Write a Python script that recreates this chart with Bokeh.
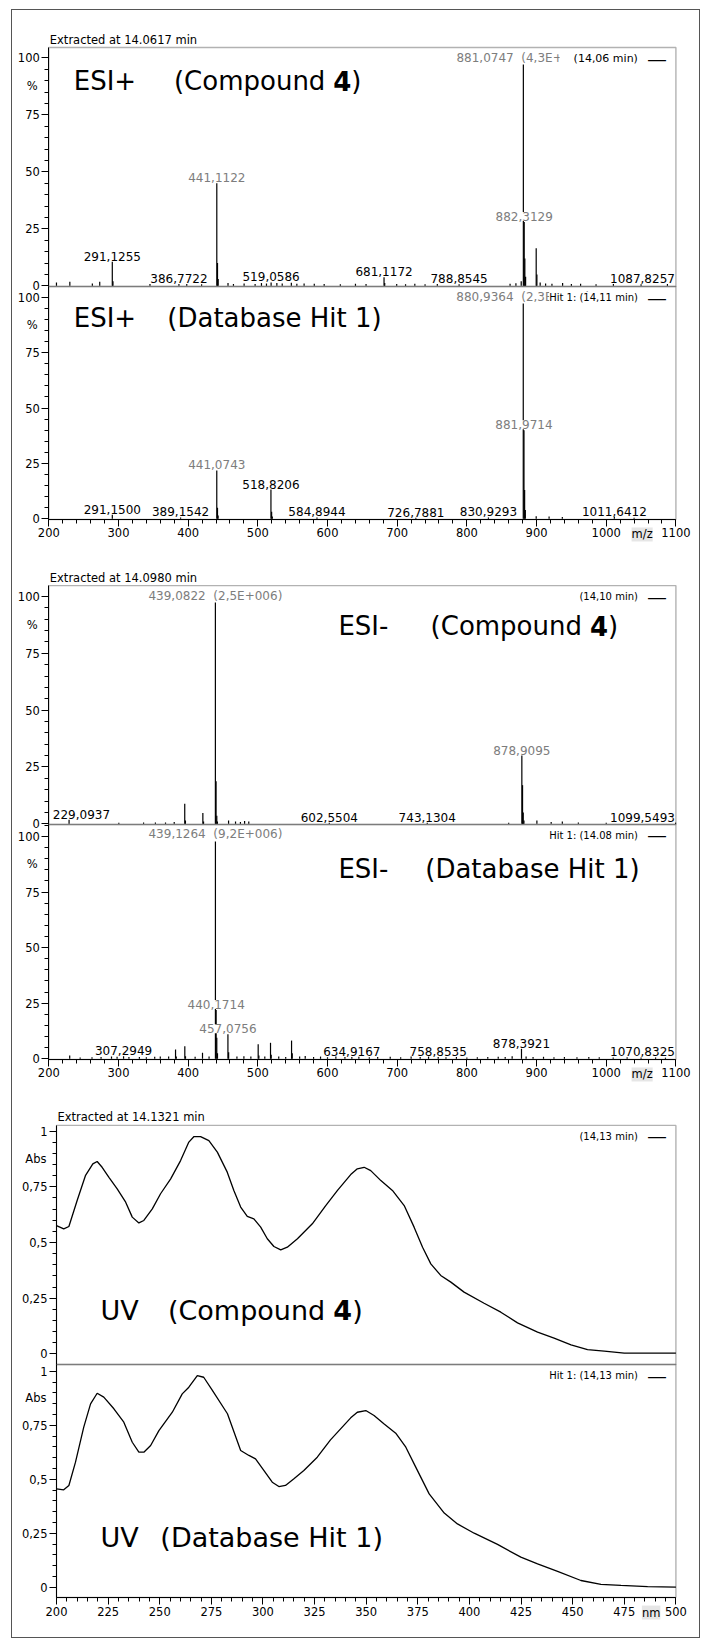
import numpy as np
from bokeh.plotting import figure
from bokeh.models import (Range1d, Label, SingleIntervalTicker, LinearAxis,
                          CustomJSTickFormatter, ColumnDataSource, BoxAnnotation)
from bokeh.layouts import column
from bokeh.embed import file_html
from bokeh.resources import INLINE

FONT = "DejaVu Sans"
GRAY = "#7d7d7d"

# ---------------- DATA ----------------
# Panel 1: ESI+ (Compound 4)
p1_mz = [211.0, 230.2, 262.5, 273.1, 291.13, 292.1, 345.2, 386.77, 398.0, 419.3,
         441.11, 442.12, 443.1, 457.2, 465.0, 480.3, 496.1, 505.2, 512.4, 519.06,
         527.3, 535.0, 548.1, 556.0, 566.4, 581.0, 595.2, 618.4, 640.1, 655.3,
         681.12, 682.1, 699.3, 712.0, 725.3, 740.0, 757.6, 788.85, 862.0, 870.4,
         878.0, 881.07, 882.31, 883.2, 884.3, 899.5, 900.5, 905.2, 913.0, 922.1,
         937.4, 950.0, 963.2, 985.4, 1010.3, 1050.0, 1087.83]
p1_int = [1.5, 1.8, 1.0, 1.8, 10.5, 2.0, 0.8, 0.8, 0.8, 0.7,
          45.0, 10.0, 3.0, 1.2, 0.8, 1.0, 0.8, 1.2, 1.0, 1.5,
          1.2, 1.0, 1.3, 0.9, 1.0, 0.9, 0.8, 0.7, 0.9, 0.8,
          3.8, 1.2, 0.8, 0.7, 0.9, 0.7, 0.8, 0.7, 0.9, 1.1,
          2.0, 100.0, 28.0, 12.0, 4.0, 16.5, 5.0, 1.5, 1.0, 0.9,
          1.2, 0.8, 0.9, 0.7, 0.8, 0.7, 0.8]
p1_labels = [291.1255, 386.7722, 441.1122, 519.0586, 681.1172, 788.8545,
             881.0747, 882.3129, 1087.8257]
p1_gray = [0, 0, 1, 0, 0, 0, 1, 1, 0]
p1_base = "4,3E+006"

# Panel 2: ESI+ (Database Hit 1)
p2_mz = [291.15, 389.15, 441.07, 442.1, 443.0, 518.82, 519.8, 520.8, 584.89,
         726.79, 830.93, 880.94, 881.97, 882.9, 883.9, 899.5, 918.0, 937.0,
         1011.64, 1040.0]
p2_int = [1.8, 0.6, 21.8, 5.0, 1.5, 13.2, 3.2, 1.0, 0.6,
          0.5, 0.6, 100.0, 40.0, 13.0, 4.0, 1.2, 1.0, 0.8,
          0.9, 0.5]
p2_labels = [291.1500, 389.1542, 441.0743, 518.8206, 584.8944, 726.7881,
             830.9293, 880.9364, 881.9714, 1011.6412]
p2_gray = [0, 0, 1, 0, 0, 0, 0, 1, 1, 0]
p2_base = "2,3E+006"

# Panel 3: ESI- (Compound 4)
p3_mz = [229.09, 300.5, 336.0, 353.0, 367.5, 380.0, 395.1, 396.1, 421.1, 422.1,
         439.08, 440.08, 441.1, 442.0, 458.0, 468.0, 475.0, 481.0, 487.0,
         602.55, 743.13, 860.0, 878.91, 879.91, 880.9, 881.9, 900.5, 921.0,
         937.0, 960.0, 1000.0, 1099.55]
p3_int = [1.8, 0.5, 0.6, 0.6, 0.6, 0.8, 8.8, 1.5, 4.7, 1.0,
          100.0, 18.7, 3.5, 1.0, 1.5, 1.0, 0.8, 1.2, 1.0,
          0.5, 0.5, 0.5, 30.0, 17.0, 5.0, 1.5, 1.5, 0.8,
          1.0, 0.6, 0.5, 0.5]
p3_labels = [229.0937, 439.0822, 602.5504, 743.1304, 878.9095, 1099.5493]
p3_gray = [0, 1, 0, 0, 1, 0]
p3_base = "2,5E+006"

# Panel 4: ESI- (Database Hit 1)
p4_mz = [230.0, 245.0, 262.0, 275.0, 290.0, 298.0, 307.29, 315.0, 330.0, 340.0,
         352.0, 360.0, 372.0, 381.9, 383.0, 395.2, 396.2, 410.0, 420.6, 430.0,
         439.13, 440.17, 441.1, 442.1, 457.08, 458.1, 470.0, 480.0, 490.0, 500.5,
         501.5, 510.0, 518.2, 519.2, 530.0, 540.0, 548.4, 549.4, 560.0, 568.0,
         580.0, 590.0, 600.0, 612.0, 625.0, 634.92, 645.0, 660.0, 672.0, 690.0,
         705.0, 720.0, 733.0, 745.0, 758.85, 770.0, 785.0, 800.0, 815.0, 830.0,
         845.0, 855.0, 865.0, 878.39, 885.0, 895.0, 910.0, 925.0, 940.0, 958.0,
         975.0, 990.0, 1010.0, 1030.0, 1050.0, 1070.83, 1085.0]
p4_int = [1.5, 0.6, 0.7, 0.8, 1.0, 0.9, 1.2, 0.8, 0.8, 0.7,
          0.9, 1.0, 1.0, 4.2, 1.0, 5.7, 1.2, 0.9, 2.7, 1.0,
          100.0, 22.0, 9.5, 2.5, 11.0, 3.0, 1.0, 1.2, 1.0, 6.6,
          1.5, 1.0, 7.2, 1.8, 1.0, 0.8, 8.2, 2.5, 1.0, 1.3,
          0.8, 1.0, 0.7, 1.0, 0.8, 0.8, 0.9, 0.7, 0.8, 0.9,
          0.7, 1.0, 0.8, 1.0, 0.8, 0.7, 0.8, 0.6, 0.7, 0.8,
          0.9, 0.8, 1.2, 4.5, 1.0, 0.8, 0.9, 0.7, 0.8, 0.7,
          0.8, 0.7, 0.6, 0.7, 0.6, 0.6, 0.5]
p4_labels = [307.2949, 439.1264, 440.1714, 457.0756, 634.9167, 758.8535,
             878.3921, 1070.8325]
p4_gray = [0, 1, 1, 1, 0, 0, 0, 0]
p4_base = "9,2E+006"

# Panel 5: UV (Compound 4)
uv1_nm = [200.0, 203.5, 206.0, 210.0, 214.0, 217.6, 219.7, 222.1, 225.4, 229.4,
          233.5, 236.7, 239.9, 242.3, 246.4, 250.4, 255.3, 260.1, 264.1, 266.6,
          269.8, 273.8, 277.9, 282.7, 285.9, 289.2, 292.4, 295.6, 298.9, 302.1,
          305.3, 308.6, 311.8, 316.7, 323.9, 330.4, 336.1, 342.5, 345.7, 349.0,
          352.2, 357.1, 362.7, 368.4, 373.2, 377.3, 381.3, 386.1, 391.0, 397.4,
          407.1, 415.2, 423.3, 433.0, 441.0, 449.2, 457.2, 465.3, 475.0, 500.0]
uv1_abs = [0.576, 0.561, 0.572, 0.689, 0.800, 0.853, 0.864, 0.838, 0.793, 0.741,
           0.681, 0.614, 0.588, 0.599, 0.651, 0.719, 0.786, 0.868, 0.951, 0.976,
           0.976, 0.958, 0.906, 0.816, 0.734, 0.659, 0.617, 0.606, 0.569, 0.517,
           0.482, 0.467, 0.479, 0.517, 0.584, 0.666, 0.734, 0.805, 0.831, 0.838,
           0.823, 0.778, 0.734, 0.666, 0.569, 0.479, 0.404, 0.352, 0.322, 0.277,
           0.227, 0.187, 0.139, 0.097, 0.070, 0.040, 0.019, 0.012, 0.003, 0.003]

# Panel 6: UV (Database Hit 1)
uv2_nm = [200.0, 203.5, 206.0, 209.2, 213.2, 216.5, 219.7, 222.9, 227.8, 232.6,
          236.7, 239.9, 242.3, 245.6, 249.6, 256.1, 260.9, 264.1, 268.2, 271.3,
          275.5, 282.8, 289.2, 293.2, 296.4, 300.5, 304.5, 307.7, 310.9, 315.0,
          319.8, 326.3, 332.7, 342.5, 345.7, 349.8, 353.8, 358.7, 364.3, 369.2,
          374.0, 380.5, 387.8, 394.2, 402.3, 413.6, 424.9, 433.0, 442.7, 454.0,
          463.7, 473.4, 486.3, 500.0]
uv2_abs = [0.455, 0.451, 0.471, 0.579, 0.741, 0.849, 0.898, 0.880, 0.826, 0.764,
           0.671, 0.625, 0.625, 0.656, 0.725, 0.810, 0.895, 0.926, 0.980, 0.972,
           0.911, 0.803, 0.633, 0.610, 0.594, 0.540, 0.486, 0.466, 0.471, 0.502,
           0.540, 0.602, 0.682, 0.784, 0.810, 0.818, 0.795, 0.756, 0.713, 0.648,
           0.556, 0.432, 0.343, 0.293, 0.250, 0.198, 0.139, 0.108, 0.073, 0.031,
           0.013, 0.008, 0.003, 0.000]

# ---------------- LAYOUT CONSTANTS (page pixels) ----------------
FIG_W = 687          # figure spans page x 12..699
PAGE_X0 = 12
MS_X = (48.3, 200.0, 675.4, 1100.0)   # px of 200, px of 1100
UV_X = (56.0, 200.0, 675.4, 500.0)


def style_axis(ax):
    ax.axis_line_color = "black"
    ax.major_tick_line_color = "black"
    ax.minor_tick_line_color = "black"
    ax.major_tick_in = 0
    ax.major_tick_out = 7
    ax.minor_tick_in = 0
    ax.minor_tick_out = 4
    ax.major_label_text_font = FONT
    ax.major_label_text_font_size = "11.5px"
    ax.major_label_text_color = "black"
    ax.major_label_standoff = 2


def add_text(p, x, y, text, size, color="black", bold=False, align="left",
             baseline="middle", xo=0, yo=0, bg=None, yname="default", font=FONT):
    kw = dict(x=x, y=y, text=text, text_font=font, text_font_size=f"{size}px",
              text_color=color, text_align=align, text_baseline=baseline,
              x_offset=xo, y_offset=yo, y_range_name=yname)
    if bold:
        kw["text_font_style"] = "bold"
    if bg is not None:
        kw["background_fill_color"] = bg
    p.add_layout(Label(**kw))


def text_w(t, size):
    return size * sum(0.318 if c in ",. ()\u00a0" else 0.636 for c in t)


def lin_range(pa, va, pb, vb, total):
    s = (pb - pa) / (vb - va)
    return va - pa / s, va + (total - pa) / s


def yrange_for(top, H, v0_px, v1_px, v1):
    s = (v0_px - v1_px) / v1       # px per unit
    y0 = v0_px - top
    return -(H - y0) / s, y0 / s, s


def pair_figure(top, H, xspec, specs):
    xa, va, xb, vb = xspec
    xs, xe = lin_range(xa - PAGE_X0, va, xb - PAGE_X0, vb, FIG_W)
    lo_spec, up_spec = specs[1], specs[0]
    ys, ye, _ = yrange_for(top, H, lo_spec["v0"], lo_spec["v1px"], lo_spec["v1"])
    us, ue, _ = yrange_for(top, H, up_spec["v0"], up_spec["v1px"], up_spec["v1"])
    p = figure(width=FIG_W, height=H, x_range=Range1d(xs, xe), y_range=Range1d(ys, ye),
               extra_y_ranges={"up": Range1d(us, ue)},
               x_axis_location=None, y_axis_location=None, min_border=0,
               output_backend="svg", toolbar_location=None)
    p.min_border_left = p.min_border_right = p.min_border_top = p.min_border_bottom = 0
    p.xgrid.visible = False
    p.ygrid.visible = False
    p.outline_line_color = None
    p.background_fill_color = "white"
    p.border_fill_color = "white"
    return p


def legend(p, xmax, hi, text, size, yname):
    add_text(p, xmax, hi, text, size, align="right", xo=-38, yo=-11, bg="white",
             yname=yname)
    add_text(p, xmax, hi, "\u2014", 18, align="right", xo=-10, yo=-11,
             yname=yname, font="Liberation Sans")


def ms_panel(p, yname, box, v0, v1px, show_x, mz, inten, labels, gray, base,
             extracted, legend_text, legend_size, title_parts, title_y):
    lo, hi = box
    ppu = (v0 - v1px) / 100.0
    # frame box
    p.add_layout(BoxAnnotation(left=200, right=1100, bottom=lo, top=hi,
                               fill_color=None, fill_alpha=0, line_color="black",
                               line_width=1.4, y_range_name=yname))
    # spectrum
    src = ColumnDataSource(dict(x=mz, y0=[0] * len(mz), y1=inten))
    p.segment(x0="x", y0="y0", x1="x", y1="y1", source=src, line_color="black",
              line_width=1.2, y_range_name=yname)
    # axes
    yax = LinearAxis(fixed_location=200, bounds=(lo, hi), y_range_name=yname,
                     ticker=SingleIntervalTicker(interval=25, num_minor_ticks=5))
    style_axis(yax)
    p.add_layout(yax, "left")
    if show_x:
        xax = LinearAxis(fixed_location=lo, bounds=(200, 1100), y_range_name=yname,
                         ticker=SingleIntervalTicker(interval=100, num_minor_ticks=5))
        style_axis(xax)
        p.add_layout(xax, "below")
        add_text(p, 1051.5, lo, "m/z", 11.5, align="center", yo=-15,
                 bg="#e6e6e6", yname=yname)
    # peak labels
    frame_h = (hi - lo) * ppu
    sx = (MS_X[2] - MS_X[0]) / 900.0
    frame_w = 900 * sx
    mz_a = np.array(mz)
    heights = [inten[int(np.argmin(np.abs(mz_a - v)))] for v in labels]
    base_idx = int(np.argmax(heights))
    for i, v in enumerate(labels):
        hgt = heights[i]
        txt = f"{v:.4f}".replace(".", ",")
        if i == base_idx:
            txt = txt + "\u00a0\u00a0(" + base + ")"
        w = text_w(txt, 12)
        c = (v - 200) * sx
        xo = 0
        if c - w / 2 < 4:
            xo = 4 - (c - w / 2)
        if c + w / 2 > frame_w - 1:
            xo = frame_w - 1 - (c + w / 2)
        col = GRAY if gray[i] else "black"
        top_px = (hgt - lo) * ppu + 1 + 14
        if top_px > frame_h - 3:
            add_text(p, v, hi, txt, 12, color=col, baseline="top", xo=xo, yo=-3,
                     align="center", bg="white", yname=yname)
        else:
            add_text(p, v, hgt, txt, 12, color=col, baseline="bottom", xo=xo, yo=1,
                     align="center", bg="white", yname=yname)
    add_text(p, 200, 87.5, "%", 11.5, align="right", xo=-11, yname=yname)
    if extracted:
        add_text(p, 200, hi, extracted, 11.5, baseline="bottom", xo=1, yo=1,
                 yname=yname)
    legend(p, 1100, hi, legend_text, legend_size, yname)
    for (tx, xo, txt, bold, align) in title_parts:
        add_text(p, tx, title_y, txt, 26, bold=bold, align=align, xo=xo, yname=yname)


def uv_panel(p, yname, box, show_x, nm, ab, extracted, legend_text, title_parts,
             title_y):
    lo, hi = box
    p.add_layout(BoxAnnotation(left=200, right=500, bottom=lo, top=hi,
                               fill_color=None, fill_alpha=0, line_color="black",
                               line_width=1.4, y_range_name=yname))
    p.line(nm, ab, line_color="black", line_width=1.3, y_range_name=yname)
    yax = LinearAxis(fixed_location=200, bounds=(lo, hi), y_range_name=yname,
                     ticker=SingleIntervalTicker(interval=0.25, num_minor_ticks=5))
    yax.formatter = CustomJSTickFormatter(
        code="return tick.toFixed(2).replace(/0+$/,'').replace(/\\.$/,'').replace('.',',');")
    style_axis(yax)
    p.add_layout(yax, "left")
    if show_x:
        xax = LinearAxis(fixed_location=lo, bounds=(200, 500), y_range_name=yname,
                         ticker=SingleIntervalTicker(interval=25, num_minor_ticks=5))
        style_axis(xax)
        p.add_layout(xax, "below")
        add_text(p, 488, lo, "nm", 11.5, align="center", yo=-15, bg="#e6e6e6",
                 yname=yname)
    add_text(p, 200, 0.875, "Abs", 11.5, align="right", xo=-10, yname=yname)
    if extracted:
        add_text(p, 200, hi, extracted, 11.5, baseline="bottom", xo=1, yo=1,
                 yname=yname)
    legend(p, 500, hi, legend_text, 10, yname)
    for (tx, xo, txt, bold, align) in title_parts:
        add_text(p, tx, title_y, txt, 27, bold=bold, align=align, xo=xo, yname=yname)


# ---- pair 1: ESI+ ----
s1 = dict(v0=285.3, v1px=57.3, v1=100.0)
s2 = dict(v0=518.3, v1px=296.7, v1=100.0)
fa = pair_figure(10, 558, MS_X, [s1, s2])
ms_panel(fa, "up", (-0.3, 104.5), s1["v0"], s1["v1px"], False, p1_mz, p1_int,
         p1_labels, p1_gray, p1_base, "Extracted at 14.0617 min",
         "\u00a0\u00a0\u00a0\u00a0(14,06 min)", 11,
         [(235.8, 0, "ESI+", False, "left"),
          (608.4, -8, "(Compound", False, "right"),
          (608.4, 0, "4", True, "left"),
          (608.4, 18, ")", False, "left")], 90.0)
ms_panel(fa, "default", (-0.3, 104.8), s2["v0"], s2["v1px"], True, p2_mz, p2_int,
         p2_labels, p2_gray, p2_base, None, "Hit 1: (14,11 min)", 10,
         [(235.8, 0, "ESI+", False, "left"),
          (370.1, 0, "(Database Hit 1)", False, "left")], 90.8)

# ---- pair 2: ESI- ----
s3 = dict(v0=823.3, v1px=596.0, v1=100.0)
s4 = dict(v0=1058.3, v1px=836.0, v1=100.0)
fb = pair_figure(568, 542, MS_X, [s3, s4])
ms_panel(fb, "up", (-0.3, 104.8), s3["v0"], s3["v1px"], False, p3_mz, p3_int,
         p3_labels, p3_gray, p3_base, "Extracted at 14.0980 min", "(14,10 min)", 10,
         [(615.6, 0, "ESI-", False, "left"),
          (976.7, -8, "(Compound", False, "right"),
          (976.7, 0, "4", True, "left"),
          (976.7, 18, ")", False, "left")], 87.2)
ms_panel(fb, "default", (-0.3, 105.4), s4["v0"], s4["v1px"], True, p4_mz, p4_int,
         p4_labels, p4_gray, p4_base, None, "Hit 1: (14.08 min)", 10,
         [(615.6, 0, "ESI-", False, "left"),
          (740.3, 0, "(Database Hit 1)", False, "left")], 85.6)

# ---- pair 3: UV ----
s5 = dict(v0=1353.3, v1px=1130.7, v1=1.0)
s6 = dict(v0=1586.7, v1px=1370.7, v1=1.0)
fc = pair_figure(1110, 527, UV_X, [s5, s6])
uv_panel(fc, "up", (-0.048, 1.026), False, uv1_nm, uv1_abs,
         "Extracted at 14.1321 min", "(14,13 min)",
         [(221.3, 0, "UV", False, "left"),
          (334.0, -8, "(Compound", False, "right"),
          (334.0, 0, "4", True, "left"),
          (334.0, 19, ")", False, "left")], 0.195)
uv_panel(fc, "default", (-0.048, 1.031), True, uv2_nm, uv2_abs,
         None, "Hit 1: (14,13 min)",
         [(221.3, 0, "UV", False, "left"),
          (250.3, 0, "(Database Hit 1)", False, "left")], 0.231)

layout = column(fa, fb, fc, spacing=0, margin=(10, 0, 0, 12),
                styles={"outline": "1px solid #555555"})

open("out.html", "w").write(file_html(layout, INLINE))
